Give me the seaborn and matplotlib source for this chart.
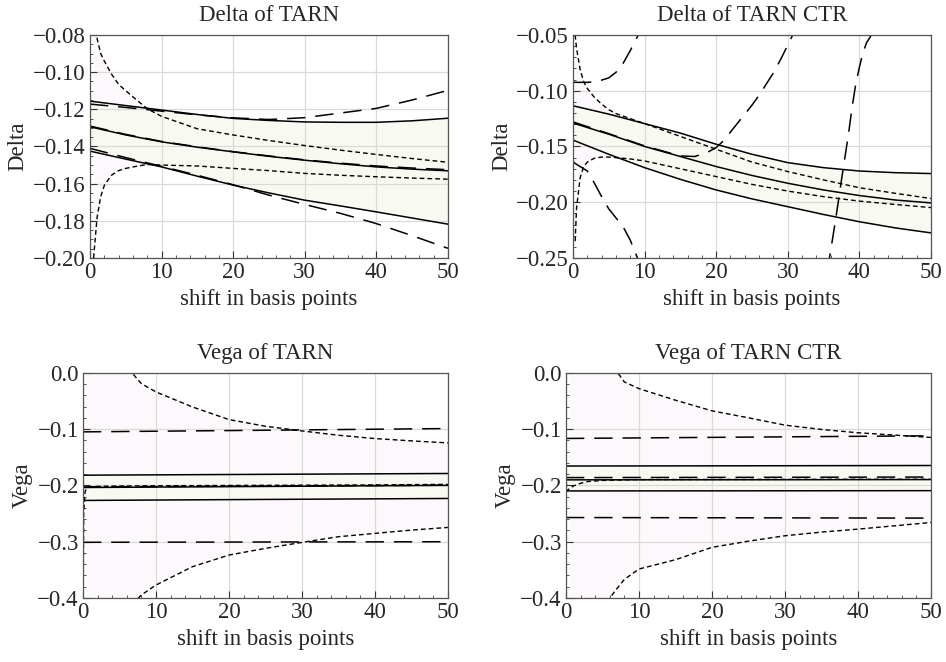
import numpy as np
import pandas as pd
import seaborn as sns
import matplotlib as mpl
from matplotlib import pyplot as plt
from matplotlib.ticker import MultipleLocator, FuncFormatter

sns.set_style('white')
plt.rcParams['font.family'] = ['Liberation Serif', 'DejaVu Serif']
plt.rcParams['axes.axisbelow'] = True

# common grid for the smooth curves
grid_x = [0, 5, 10, 15, 20, 25, 30, 35, 40, 45, 50]

# ---------------- Delta of TARN ----------------
dt_hi = [-0.1156, -0.118, -0.1204, -0.1228, -0.1249, -0.126, -0.1268, -0.1270, -0.1270, -0.1262, -0.1248]
dt_mid = [-0.1294, -0.1338, -0.1375, -0.1404, -0.1429, -0.1453, -0.1474, -0.1493, -0.151, -0.1522, -0.1531]
dt_lo = [-0.1425, -0.1468, -0.151, -0.156, -0.1608, -0.165, -0.1689, -0.172, -0.1752, -0.1785, -0.1818]
dt_ld_hi = [-0.1172, -0.119, -0.121, -0.123, -0.1246, -0.1255, -0.1245, -0.122, -0.1195, -0.115, -0.1098]
dt_ld_mid = [-0.129, -0.1335, -0.1373, -0.1402, -0.1428, -0.1451, -0.1472, -0.1490, -0.1505, -0.1516, -0.1525]
dt_ld_lo = [-0.141, -0.146, -0.1507, -0.1555, -0.1606, -0.1662, -0.1712, -0.176, -0.1815, -0.188, -0.1948]
dt_sd_x = [0.5, 1, 1.5, 2, 3, 4, 5, 6, 8, 10, 15, 20, 25, 30, 35, 40, 45, 50]
dt_sd_hi = [-0.06, -0.082, -0.090, -0.094, -0.101, -0.1066, -0.110, -0.1133, -0.1197, -0.1238, -0.1305,
            -0.1338, -0.1368, -0.1395, -0.142, -0.1443, -0.1465, -0.1485]
dt_sd_lo = [-0.200, -0.178, -0.167, -0.161, -0.1555, -0.153, -0.1518, -0.151, -0.1497, -0.150, -0.1505,
            -0.1518, -0.153, -0.1545, -0.1555, -0.1563, -0.157, -0.1576]

# ---------------- Delta of TARN CTR ----------------
dc_hi = [-0.1135, -0.121, -0.1295, -0.138, -0.148, -0.157, -0.1645, -0.169, -0.172, -0.1735, -0.1743]
dc_mid = [-0.129, -0.139, -0.150, -0.159, -0.168, -0.176, -0.183, -0.189, -0.194, -0.198, -0.2006]
dc_lo = [-0.1443, -0.157, -0.169, -0.1795, -0.189, -0.197, -0.204, -0.211, -0.2175, -0.223, -0.2275]
dc_ld_hi_x = [0, 1, 2, 3, 4, 5, 6, 7, 8, 9, 10]
dc_ld_hi = [-0.0925, -0.0925, -0.0925, -0.092, -0.0905, -0.0885, -0.0835, -0.0755, -0.064, -0.0515, -0.037]
dc_ld_lo_x = [0, 1, 2, 3, 4, 5, 6, 7, 8, 9, 10]
dc_ld_lo = [-0.164, -0.168, -0.172, -0.183, -0.195, -0.206, -0.214, -0.222, -0.234, -0.250, -0.270]
dc_ld_mid_x = [0, 5, 10, 15, 17, 18, 19, 20, 21, 22, 23, 24, 25, 26, 27, 28, 29, 30, 31]
dc_ld_mid = [-0.128, -0.1385, -0.1495, -0.1585, -0.159, -0.157, -0.1545, -0.151, -0.145, -0.137, -0.129,
             -0.121, -0.113, -0.104, -0.094, -0.084, -0.072, -0.059, -0.046]
dc_ld_lo2_x = [35.5, 36, 36.5, 37, 37.5, 38, 38.5, 39, 39.5, 40, 40.5, 41, 41.5, 42]
dc_ld_lo2 = [-0.262, -0.243, -0.223, -0.202, -0.180, -0.159, -0.138, -0.114, -0.094, -0.079, -0.066,
             -0.057, -0.052, -0.046]
dc_sd_x = [0.3, 0.5, 1, 1.5, 2, 3, 4, 5, 6, 8, 10, 15, 20, 25, 30, 35, 40, 45, 50]
dc_sd_hi = [-0.05, -0.062, -0.081, -0.092, -0.098, -0.106, -0.112, -0.117, -0.1205, -0.125, -0.1295,
            -0.141, -0.1525, -0.164, -0.1725, -0.180, -0.187, -0.192, -0.1967]
dc_sd_lo = [-0.235, -0.205, -0.178, -0.168, -0.164, -0.1605, -0.1595, -0.1595, -0.160, -0.1612, -0.163,
            -0.170, -0.177, -0.184, -0.190, -0.195, -0.199, -0.202, -0.2048]

# ---------------- Vega of TARN ----------------
flat_x = [0, 25, 50]
vt_hi = [-0.1817, -0.1802, -0.1787]
vt_mid = [-0.2036, -0.2017, -0.1998]
vt_lo = [-0.2266, -0.2248, -0.2231]
vt_ld_hi = [-0.1047, -0.1018, -0.0988]
vt_ld_mid = [-0.2025, -0.201, -0.1995]
vt_ld_lo = [-0.301, -0.3005, -0.300]
vt_sd_x = [0.5, 2, 4, 6, 7, 8, 10, 15, 20, 25, 30, 35, 40, 45, 50]
vt_sd_hi = [0.9, 0.3, 0.09, 0.012, -0.004, -0.019, -0.0337, -0.0604, -0.0828, -0.0947, -0.103,
            -0.1107, -0.1166, -0.1207, -0.1243]
vt_sd_lo = [-1.3, -0.75, -0.52, -0.43, -0.408, -0.3947, -0.377, -0.3444, -0.3237, -0.3118, -0.3012,
            -0.2911, -0.2852, -0.2793, -0.2746]
vt_sd_mid_x = [0, 0.1, 0.3, 0.6, 1, 2, 5, 10, 20, 30, 40, 50]
vt_sd_mid = [-0.45, -0.25, -0.21, -0.204, -0.2025, -0.2015, -0.201, -0.2005, -0.2, -0.1995, -0.199, -0.198]

# ---------------- Vega of TARN CTR ----------------
vc_hi = [-0.1654, -0.1650, -0.1645]
vc_mid = [-0.1900, -0.1898, -0.1895]
vc_lo = [-0.2097, -0.2095, -0.2092]
vc_ld_hi = [-0.1164, -0.114, -0.1117]
vc_ld_mid = [-0.186, -0.1855, -0.185]
vc_ld_lo = [-0.257, -0.2575, -0.258]
vc_sd_x = [0.5, 2, 4, 6, 7, 8, 10, 15, 20, 25, 30, 35, 40, 45, 50]
vc_sd_hi = [0.9, 0.3, 0.09, 0.02, 0.002, -0.016, -0.0278, -0.0484, -0.0673, -0.0797, -0.0927,
            -0.1004, -0.1063, -0.1104, -0.1146]
vc_sd_lo = [-1.3, -0.75, -0.5, -0.40, -0.383, -0.367, -0.3485, -0.332, -0.31, -0.299, -0.2894,
            -0.2829, -0.2776, -0.2717, -0.2658]
vc_sd_mid_x = [0, 0.1, 0.5, 1, 2, 3, 5, 10, 20, 30, 40, 50]
vc_sd_mid = [-0.18, -0.21, -0.205, -0.201, -0.196, -0.193, -0.191, -0.1895, -0.1893, -0.1892, -0.189, -0.189]

LONG = (0, (12, 6.5))
SHORT = (0, (3.4, 2.2))
PINK = '#fdf8fb'
GREEN = '#f8faf1'


def line(ax, x, y, style='-', lw=1.1):
    sns.lineplot(x=x, y=y, ax=ax, color='black', linewidth=lw, linestyle=style,
                 estimator=None, sort=False)


def band(ax, x, lo, hi, color):
    ax.fill_between(x, lo, hi, color=color, lw=0, zorder=0.2)


def style_axes(ax, title, ylabel, ylim, major, minor, decimals):
    ax.set_xlim(0, 50)
    ax.set_ylim(*ylim)
    ax.xaxis.set_major_locator(MultipleLocator(10))
    ax.xaxis.set_minor_locator(MultipleLocator(2))
    ax.yaxis.set_major_locator(MultipleLocator(major))
    ax.yaxis.set_minor_locator(MultipleLocator(minor))

    def fmt(v, _):
        if abs(v) < 1e-9:
            v = 0.0
        return f"{v:.{decimals}f}".replace('-', '\u2212')
    ax.yaxis.set_major_formatter(FuncFormatter(fmt))
    ax.grid(True, which='major', color='#dadada', lw=0.9)
    ax.tick_params(which='both', direction='in', bottom=True, left=True, top=False, right=False,
                   labelsize=16.5, pad=3, color='#333')
    ax.tick_params(which='major', length=5, width=0.8)
    ax.tick_params(which='minor', length=2.5, width=0.6)
    for s in ax.spines.values():
        s.set_color('#555')
        s.set_linewidth(0.9)
    ax.set_title(title, fontsize=16.5, pad=10)
    ax.set_xlabel('shift in basis points', fontsize=16.5, labelpad=4)
    ax.set_ylabel(ylabel, fontsize=16.5, labelpad=3)


fig = plt.figure(figsize=(9.46, 6.62), dpi=100)
ax1 = fig.add_axes([0.0951, 0.6103, 0.3784, 0.3369])
ax2 = fig.add_axes([0.6057, 0.6103, 0.3784, 0.3369])
ax3 = fig.add_axes([0.0877, 0.0967, 0.3858, 0.3399])
ax4 = fig.add_axes([0.5983, 0.0967, 0.3858, 0.3399])

# Delta of TARN
band(ax1, dt_sd_x, dt_sd_lo, dt_sd_hi, PINK)
band(ax1, grid_x, dt_lo, dt_hi, GREEN)
for y in (dt_hi, dt_mid, dt_lo):
    line(ax1, grid_x, y)
for y in (dt_ld_hi, dt_ld_mid, dt_ld_lo):
    line(ax1, grid_x, y, LONG)
line(ax1, dt_sd_x, dt_sd_hi, SHORT, 1.0)
line(ax1, dt_sd_x, dt_sd_lo, SHORT, 1.0)
style_axes(ax1, 'Delta of TARN', 'Delta', (-0.20, -0.08), 0.02, 0.005, 2)

# Delta of TARN CTR
band(ax2, dc_sd_x, dc_sd_lo, dc_sd_hi, PINK)
band(ax2, grid_x, dc_lo, dc_hi, GREEN)
for y in (dc_hi, dc_mid, dc_lo):
    line(ax2, grid_x, y)
line(ax2, dc_ld_hi_x, dc_ld_hi, LONG)
line(ax2, dc_ld_lo_x, dc_ld_lo, LONG)
line(ax2, dc_ld_mid_x, dc_ld_mid, LONG)
line(ax2, dc_ld_lo2_x, dc_ld_lo2, LONG)
line(ax2, dc_sd_x, dc_sd_hi, SHORT, 1.0)
line(ax2, dc_sd_x, dc_sd_lo, SHORT, 1.0)
style_axes(ax2, 'Delta of TARN CTR', 'Delta', (-0.25, -0.05), 0.05, 0.01, 2)

# Vega of TARN
band(ax3, vt_sd_x, vt_sd_lo, vt_sd_hi, PINK)
band(ax3, flat_x, vt_lo, vt_hi, GREEN)
for y in (vt_hi, vt_mid, vt_lo):
    line(ax3, flat_x, y)
for y in (vt_ld_hi, vt_ld_mid, vt_ld_lo):
    line(ax3, flat_x, y, LONG)
line(ax3, vt_sd_x, vt_sd_hi, SHORT, 1.0)
line(ax3, vt_sd_x, vt_sd_lo, SHORT, 1.0)
line(ax3, vt_sd_mid_x, vt_sd_mid, SHORT, 1.0)
style_axes(ax3, 'Vega of TARN', 'Vega', (-0.4, 0.0), 0.1, 0.02, 1)

# Vega of TARN CTR
band(ax4, vc_sd_x, vc_sd_lo, vc_sd_hi, PINK)
band(ax4, flat_x, vc_lo, vc_hi, GREEN)
for y in (vc_hi, vc_mid, vc_lo):
    line(ax4, flat_x, y)
for y in (vc_ld_hi, vc_ld_mid, vc_ld_lo):
    line(ax4, flat_x, y, LONG)
line(ax4, vc_sd_x, vc_sd_hi, SHORT, 1.0)
line(ax4, vc_sd_x, vc_sd_lo, SHORT, 1.0)
line(ax4, vc_sd_mid_x, vc_sd_mid, SHORT, 1.0)
style_axes(ax4, 'Vega of TARN CTR', 'Vega', (-0.4, 0.0), 0.1, 0.02, 1)

fig.savefig('out.png', dpi=100)
plt.close()
